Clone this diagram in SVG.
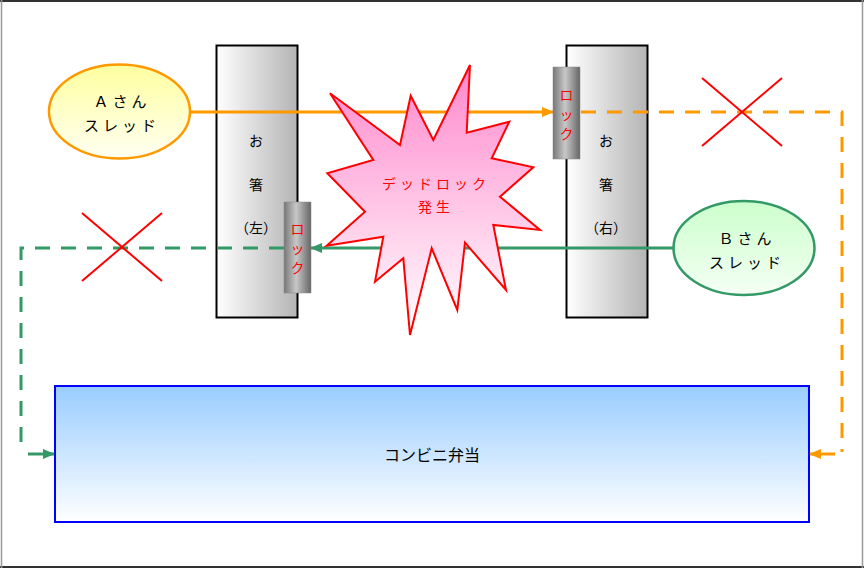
<svg xmlns="http://www.w3.org/2000/svg" width="864" height="568" viewBox="0 0 864 568">
<defs>
<style>
text{font-family:"Liberation Sans","Noto Sans CJK JP",sans-serif;text-anchor:middle;dominant-baseline:central}
.t{font-size:15px;fill:#000;letter-spacing:4px}
.c{font-size:14px;fill:#000}
.r{font-size:14px;fill:#ff0000}
.o{stroke:#ff9900;stroke-width:3;fill:none}
.g{stroke:#339966;stroke-width:3;fill:none}
.d{stroke-dasharray:15 11}
.x{stroke:#ff0000;stroke-width:2}
</style>
<linearGradient id="gA" x1="0" y1="0" x2="0" y2="1"><stop offset="0" stop-color="#ffffa0"/><stop offset="1" stop-color="#fffff2"/></linearGradient>
<linearGradient id="gB" x1="0" y1="0" x2="0" y2="1"><stop offset="0" stop-color="#ccffcc"/><stop offset="1" stop-color="#f4fff4"/></linearGradient>
<linearGradient id="gS" x1="0" y1="0" x2="1" y2="0"><stop offset="0" stop-color="#ffffff"/><stop offset="1" stop-color="#b4b4b4"/></linearGradient>
<linearGradient id="gL" x1="0" y1="0" x2="1" y2="0"><stop offset="0" stop-color="#777"/><stop offset="0.45" stop-color="#c8c8c8"/><stop offset="1" stop-color="#666"/></linearGradient>
<linearGradient id="gX" x1="0" y1="0" x2="0" y2="1"><stop offset="0" stop-color="#ff88cc"/><stop offset="1" stop-color="#ffffff"/></linearGradient>
<linearGradient id="gK" x1="0" y1="0" x2="0" y2="1"><stop offset="0" stop-color="#99ccff"/><stop offset="1" stop-color="#ffffff"/></linearGradient>
<marker id="ao" markerWidth="12" markerHeight="10" refX="11" refY="5" orient="auto" markerUnits="userSpaceOnUse"><path d="M0,0 L12,5 L0,10 Z" fill="#ff9900"/></marker>
<marker id="ag" markerWidth="12" markerHeight="10" refX="11" refY="5" orient="auto" markerUnits="userSpaceOnUse"><path d="M0,0 L12,5 L0,10 Z" fill="#339966"/></marker>
</defs>
<rect x="0" y="0" width="864" height="568" fill="#fff"/>
<line x1="0" y1="1" x2="864" y2="1" stroke="#333" stroke-width="2"/>
<line x1="0" y1="567" x2="864" y2="567" stroke="#333" stroke-width="2"/>
<line x1="1.5" y1="0" x2="1.5" y2="568" stroke="#999" stroke-width="1.5"/>
<line x1="862.5" y1="0" x2="862.5" y2="568" stroke="#999" stroke-width="1.5"/>

<g id="bento">
<rect x="55" y="386" width="754" height="136" fill="url(#gK)" stroke="#0000ff" stroke-width="2"/>
<text class="c" x="432" y="455" style="font-size:16px">コンビニ弁当</text>
</g>

<g id="chopstick-left">
<rect x="216.5" y="45.5" width="81" height="272" fill="url(#gS)" stroke="#000" stroke-width="2"/>
<text class="c" x="256" y="141">お</text>
<text class="c" x="256" y="185">箸</text>
<text class="c" x="256" y="228">（左）</text>
</g>
<g id="chopstick-right">
<rect x="566.5" y="45.5" width="81" height="272" fill="url(#gS)" stroke="#000" stroke-width="2"/>
<text class="c" x="606" y="141">お</text>
<text class="c" x="606" y="185">箸</text>
<text class="c" x="606" y="228">（右）</text>
</g>

<g id="connectors">
<line class="o" x1="191" y1="112" x2="553" y2="112" marker-end="url(#ao)"/>
<polyline class="o d" points="581,112 842,112 842,452"/>
<line class="o" x1="835" y1="454" x2="810" y2="454" marker-end="url(#ao)"/>
<line class="g" x1="673" y1="248" x2="311" y2="248" marker-end="url(#ag)"/>
<polyline class="g d" points="284,248 21,248 21,450"/>
<line class="g" x1="28" y1="454" x2="54" y2="454" marker-end="url(#ag)"/>
</g>

<g id="lock-left">
<rect x="284" y="202" width="27" height="91" fill="url(#gL)" stroke="#888" stroke-width="0.5"/>
<text class="r" x="297.5" y="229">ロ</text>
<text class="r" x="297.5" y="249">ッ</text>
<text class="r" x="297.5" y="268">ク</text>
</g>
<g id="lock-right">
<rect x="553" y="67" width="27" height="92" fill="url(#gL)" stroke="#888" stroke-width="0.5"/>
<text class="r" x="566.5" y="95">ロ</text>
<text class="r" x="566.5" y="115">ッ</text>
<text class="r" x="566.5" y="134">ク</text>
</g>

<g id="thread-a">
<ellipse cx="119.5" cy="111.5" rx="70.5" ry="47" fill="url(#gA)" stroke="#ff9900" stroke-width="2.5"/>
<text class="t" x="122" y="101">Ａさん</text>
<text class="t" x="122" y="125">スレッド</text>
</g>
<g id="thread-b">
<ellipse cx="744" cy="248" rx="70.5" ry="47" fill="url(#gB)" stroke="#339966" stroke-width="2.5"/>
<text class="t" x="747" y="238">Ｂさん</text>
<text class="t" x="747" y="262">スレッド</text>
</g>

<g id="deadlock">
<polygon points="470,65 466.7,132.7 509.3,121.7 491.7,158.3 533.3,167.3 500,196.7 540,230 493.3,225 506,290 465,242.7 457.3,310 431.7,248.3 410,335 403.3,258.3 375,281.7 383.3,236.7 326.7,245.7 365,211.7 327.3,173.3 373.3,160 330,93.3 400,145 410.7,95.7 433.3,140" fill="url(#gX)" stroke="#ff0000" stroke-width="2" stroke-linejoin="miter"/>
<text class="r" x="436" y="184" style="letter-spacing:4px">デッドロック</text>
<text class="r" x="436" y="207" style="letter-spacing:4px">発生</text>
</g>

<g id="x-right">
<line class="x" x1="702" y1="78" x2="782" y2="146"/>
<line class="x" x1="782" y1="78" x2="702" y2="146"/>
</g>
<g id="x-left">
<line class="x" x1="82" y1="213" x2="162" y2="281"/>
<line class="x" x1="162" y1="213" x2="82" y2="281"/>
</g>
</svg>
